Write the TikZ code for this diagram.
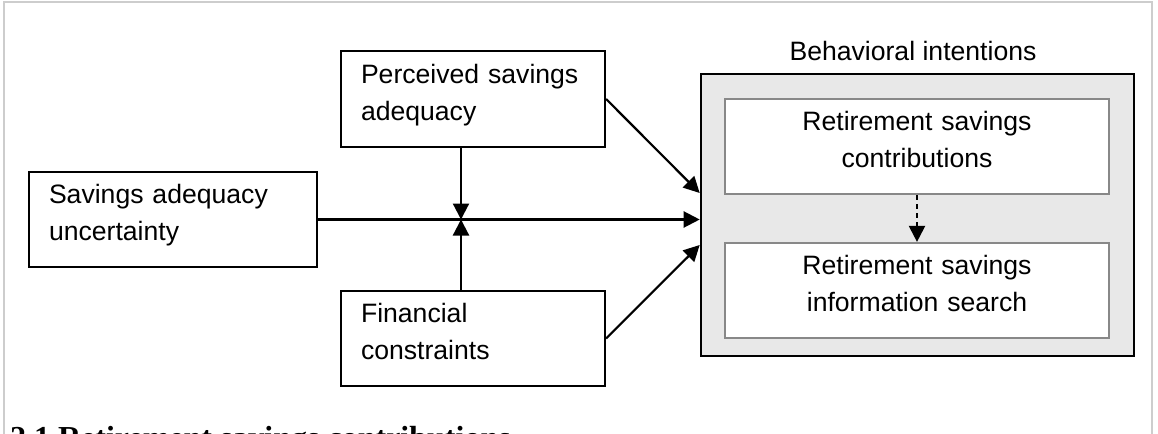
\documentclass[tikz,border=0pt]{standalone}
\usepackage{fontspec}
\setmainfont{Liberation Sans}
\newfontfamily\headfont{Liberation Serif}
\usetikzlibrary{arrows.meta,positioning}
\definecolor{panel}{HTML}{E8E8E8}
\definecolor{inedge}{HTML}{888888}
\definecolor{frameline}{HTML}{CDCDCD}
\newcommand{\tstrut}{\rule[-7pt]{0pt}{12pt}}

\begin{document}
\begin{tikzpicture}[x=0.5pt,y=-0.5pt,>={Triangle[length=8pt,width=8pt]},
  box/.style={draw,line width=1.1pt,inner xsep=10pt,inner ysep=0pt,align=left,
    font=\fontsize{13.3}{18.5}\selectfont,
    execute at begin node=\tstrut,execute at end node=\tstrut},
  inbox/.style={box,draw=inedge,fill=white,align=center,text width=172pt,minimum height=47.5pt},
  group/.style={draw,line width=1.3pt,fill=panel},
  title/.style={font=\fontsize{13.3}{18.5}\selectfont},
  link/.style={->,line width=1.1pt}]
\useasboundingbox (0,0) rectangle (1158,434);
\clip (0,0) rectangle (1158,434);
\draw[frameline,line width=1pt] (4,2) rectangle (1152,460);
\node[box,text width=124pt,minimum height=47.5pt] (uncert) at (173,219.5) {Savings adequacy\\uncertainty};
\node[box,text width=112pt,minimum height=48pt] (adequacy) at (473,99) {Perceived savings\\adequacy};
\node[box,text width=112pt,minimum height=47.5pt] (constraints) at (473,338.5) {Financial\\constraints};
\node[group,minimum width=216.5pt,minimum height=141pt] (intentions) at (917.5,215) {};
\node[inbox] (contrib) at (917,146.5) {Retirement savings\\contributions};
\node[inbox] (search) at (917,290.5) {Retirement savings\\information search};
\node[title,anchor=base] (intentlabel) at (913,60) {Behavioral intentions};
\node[anchor=base west,font=\headfont\fontsize{16}{19}\selectfont\bfseries] (sectionhead) at (3,448) {2.1 Retirement savings contributions};
\coordinate (join) at (461,219.5);
\draw[link] (uncert) -- (uncert -| intentions.west);
\draw[link] (adequacy.south -| join) -- (join);
\draw[link] (constraints.north -| join) -- (join);
\draw[link] (adequacy.east) -- (intentions.west |- 0,193);
\draw[link] (constraints.east) -- (intentions.west |- 0,245);
\draw[link,dash pattern=on 2.5pt off 2pt] (contrib) -- (search);
\end{tikzpicture}
\end{document}
